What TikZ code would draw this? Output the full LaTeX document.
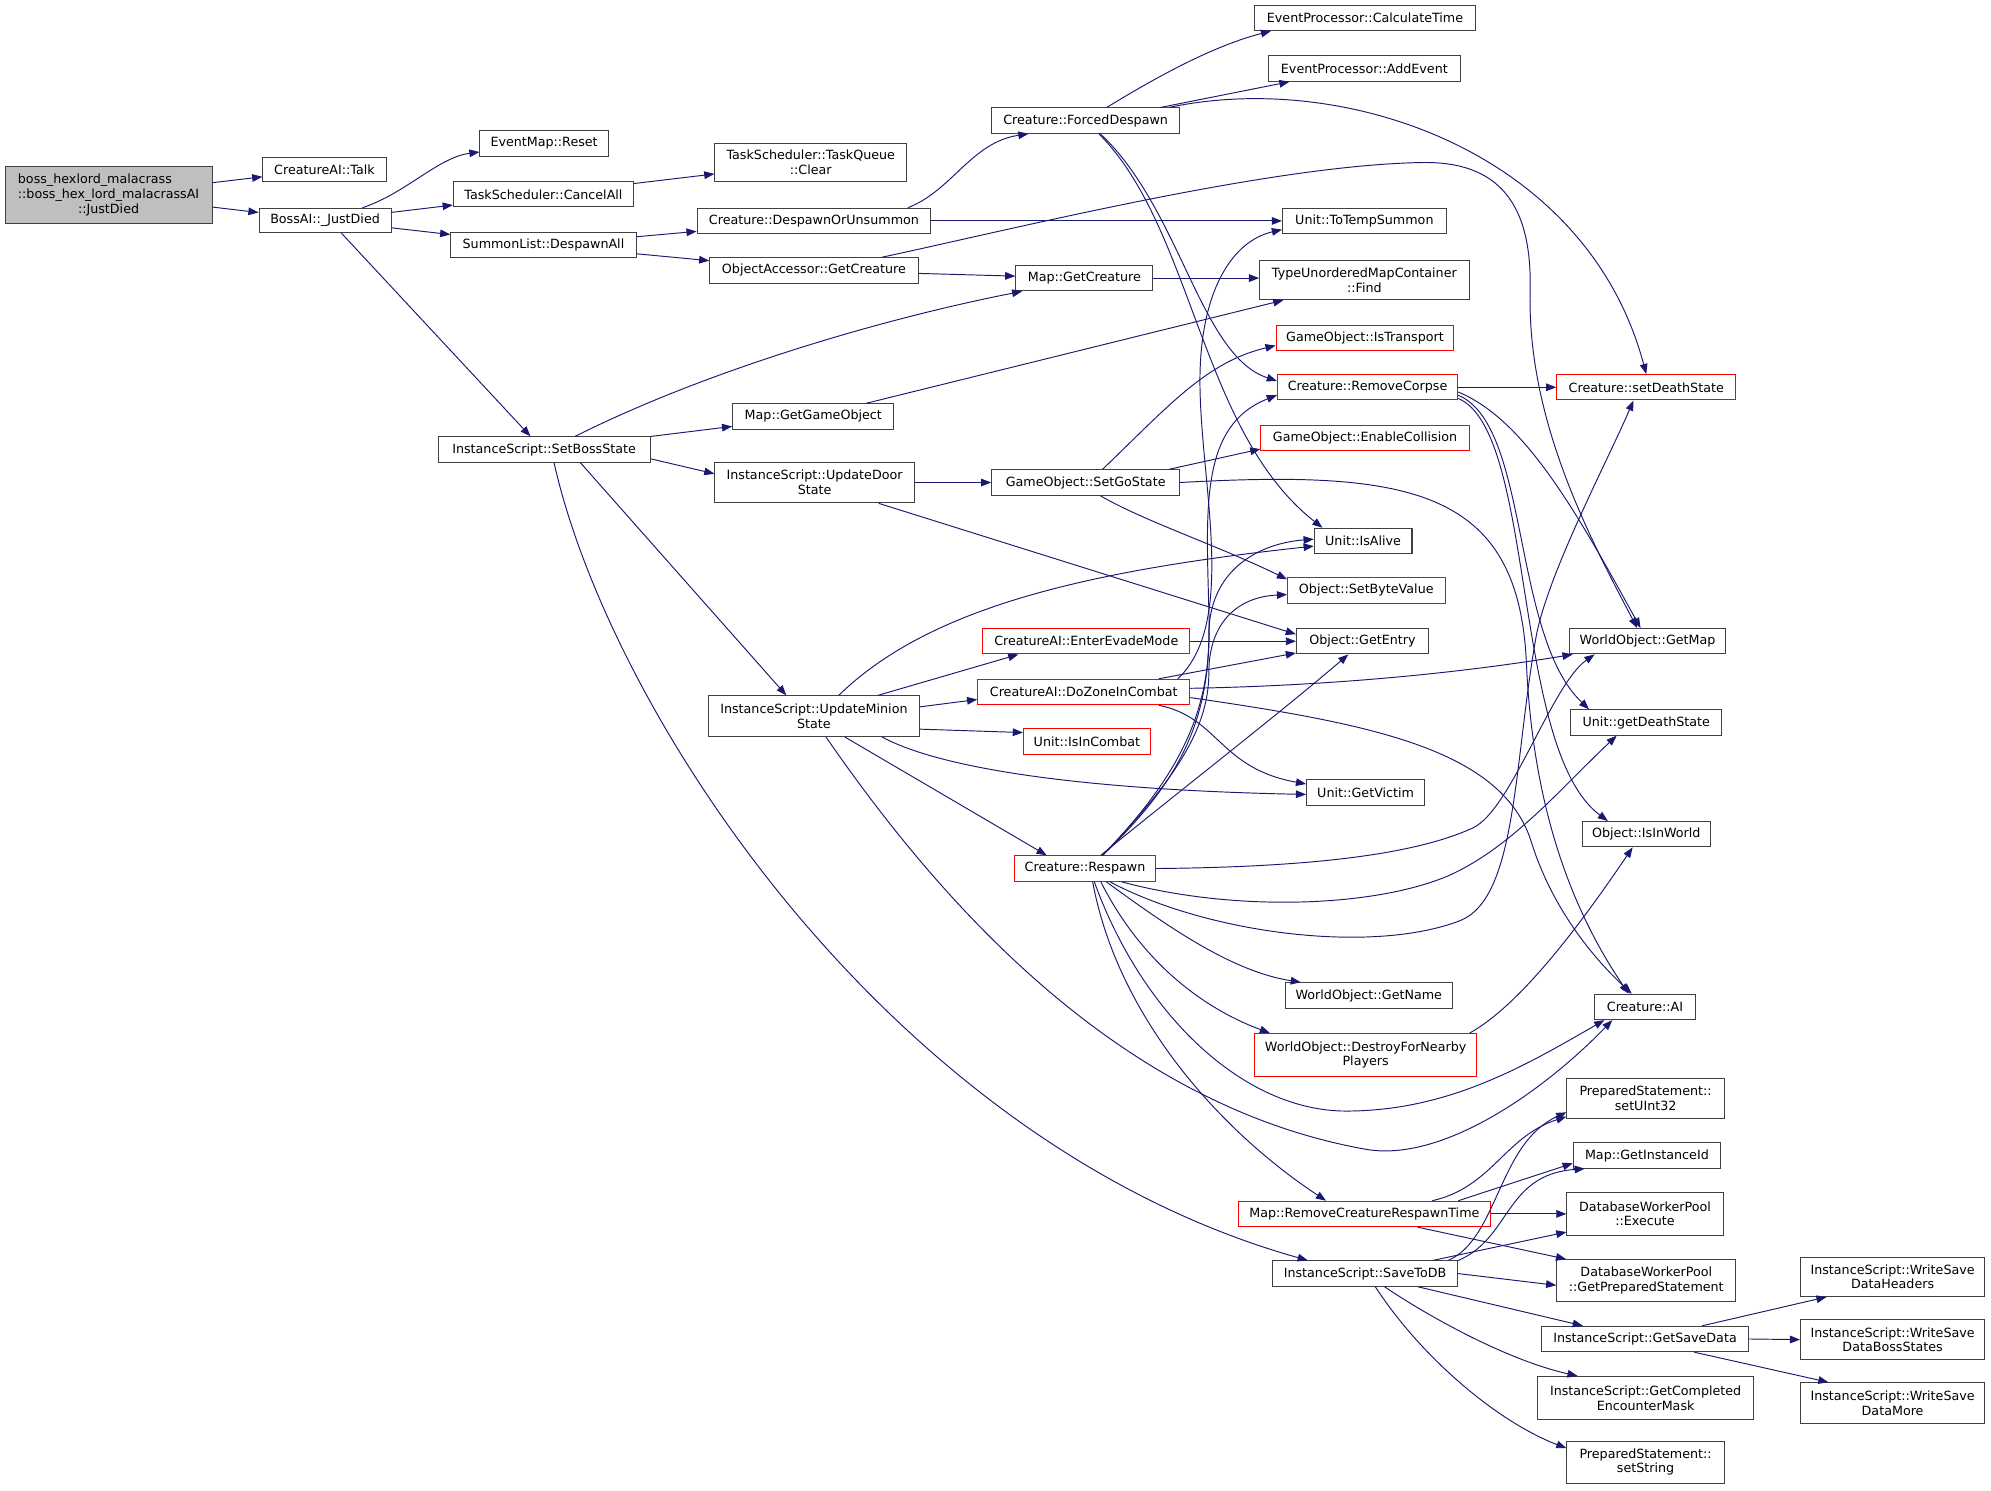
\documentclass[tikz,border=0pt]{standalone}
\usepackage{fontspec}
\usepackage{calc}
\setmainfont{DejaVu Sans}
\usetikzlibrary{arrows.meta}
\definecolor{edgeblue}{HTML}{191970}
\definecolor{nodegray}{HTML}{404040}
\definecolor{rootfill}{HTML}{BFBFBF}
\definecolor{trunc}{HTML}{FF0000}
\begin{document}
\begin{tikzpicture}[x=1pt,y=-1pt,
  fn/.style={draw=nodegray, line width=0.8pt, fill=white, inner sep=0pt, align=center,
    font=\fontsize{10}{11.5}\selectfont},
  fnred/.style={fn, draw=trunc},
  fnroot/.style={fn, fill=rootfill},
  call/.style={draw=edgeblue, line width=0.75pt, -{Triangle[length=8pt,width=6pt]}}]
\fill[white] (0,0) rectangle (1568,1174);
\useasboundingbox (0,0) rectangle (1568,1174);

% ---------- nodes ----------
\node[fnroot, minimum width=163pt, minimum height=45pt] (boss) at (85.5,153.5)
  {\makebox[\widthof{::boss\_hex\_lord\_malacrassAI}][l]{boss\_hexlord\_malacrass}\\::boss\_hex\_lord\_malacrassAI\\::JustDied};
\node[fn, minimum width=97pt, minimum height=19pt] (talk) at (255.5,133.5) {CreatureAI::Talk};
\node[fn, minimum width=104pt, minimum height=19pt] (bossai) at (256,173.5) {BossAI::\_JustDied};
\node[fn, minimum width=101pt, minimum height=20pt] (reset) at (428.5,113) {EventMap::Reset};
\node[fn, minimum width=142pt, minimum height=20pt] (cancelall) at (428,153) {TaskScheduler::CancelAll};
\node[fn, minimum width=146pt, minimum height=20pt] (despawnall) at (428,193) {SummonList::DespawnAll};
\node[fn, minimum width=151pt, minimum height=30pt] (tqclear) at (638.5,128) {TaskScheduler::TaskQueue\\::Clear};
\node[fn, minimum width=184pt, minimum height=20pt] (dou) at (641,174) {Creature::DespawnOrUnsummon};
\node[fn, minimum width=164pt, minimum height=20pt] (oagc) at (641,213) {ObjectAccessor::GetCreature};
\node[fn, minimum width=148pt, minimum height=20pt] (forced) at (855,95) {Creature::ForcedDespawn};
\node[fn, minimum width=174pt, minimum height=20pt] (calctime) at (1075,14) {EventProcessor::CalculateTime};
\node[fn, minimum width=151pt, minimum height=20pt] (addevent) at (1074.5,54) {EventProcessor::AddEvent};
\node[fn, minimum width=129pt, minimum height=20pt] (tts) at (1074.5,174) {Unit::ToTempSummon};
\node[fn, minimum width=108pt, minimum height=20pt] (mapgc) at (854,219) {Map::GetCreature};
\node[fn, minimum width=165pt, minimum height=31pt] (find) at (1074.5,220.5) {TypeUnorderedMapContainer\\::Find};
\node[fnred, minimum width=140pt, minimum height=20pt] (istransport) at (1075,266) {GameObject::IsTransport};
\node[fnred, minimum width=142pt, minimum height=20pt] (removecorpse) at (1077,305) {Creature::RemoveCorpse};
\node[fnred, minimum width=141pt, minimum height=20pt] (setdeath) at (1296.5,305) {Creature::setDeathState};
\node[fn, minimum width=127pt, minimum height=20pt] (mapggo) at (640.5,328) {Map::GetGameObject};
\node[fn, minimum width=167pt, minimum height=20pt] (setboss) at (428.5,354) {InstanceScript::SetBossState};
\node[fnred, minimum width=164pt, minimum height=20pt] (enablecoll) at (1075,345) {GameObject::EnableCollision};
\node[fn, minimum width=157pt, minimum height=32pt] (updoor) at (641.5,380) {InstanceScript::UpdateDoor\\State};
\node[fn, minimum width=148pt, minimum height=20pt] (setgo) at (855,380) {GameObject::SetGoState};
\node[fn, minimum width=77pt, minimum height=20pt] (isalive) at (1073.5,426) {Unit::IsAlive};
\node[fnred, minimum width=124pt, minimum height=20pt] (setbyte) at (1076,465) {Object::SetByteValue};
\node[fnred, minimum width=163pt, minimum height=20pt] (evade) at (855.5,505) {CreatureAI::EnterEvadeMode};
\node[fn, minimum width=104pt, minimum height=20pt] (getentry) at (1073,505) {Object::GetEntry};
\node[fn, minimum width=123pt, minimum height=20pt] (getmap) at (1297.5,505) {WorldObject::GetMap};
\node[fnred, minimum width=167pt, minimum height=20pt] (dozone) at (853.5,545) {CreatureAI::DoZoneInCombat};
\node[fn, minimum width=166pt, minimum height=32pt] (upminion) at (641,564) {InstanceScript::UpdateMinion\\State};
\node[fnred, minimum width=100pt, minimum height=20pt] (isincombat) at (856,584) {Unit::IsInCombat};
\node[fn, minimum width=119pt, minimum height=20pt] (getdeath) at (1296.5,569) {Unit::getDeathState};
\node[fn, minimum width=93pt, minimum height=20pt] (getvictim) at (1075.5,624) {Unit::GetVictim};
\node[fn, minimum width=101pt, minimum height=20pt] (isinworld) at (1296.5,657) {Object::IsInWorld};
\node[fnred, minimum width=111pt, minimum height=20pt] (respawn) at (854.5,684) {Creature::Respawn};
\node[fn, minimum width=132pt, minimum height=20pt] (getname) at (1078,784) {WorldObject::GetName};
\node[fn, minimum width=79pt, minimum height=20pt] (ai) at (1295.5,793) {Creature::AI};
\node[fnred, minimum width=175pt, minimum height=34pt] (destroy) at (1075.5,831) {WorldObject::DestroyForNearby\\Players};
\node[fn, minimum width=124pt, minimum height=32pt] (setuint) at (1296,865) {PreparedStatement::\\setUInt32};
\node[fn, minimum width=116pt, minimum height=20pt] (instid) at (1297,910) {Map::GetInstanceId};
\node[fnred, minimum width=199pt, minimum height=20pt] (rmrespawn) at (1074.5,956) {Map::RemoveCreatureRespawnTime};
\node[fn, minimum width=123pt, minimum height=34pt] (execute) at (1295.5,956) {DatabaseWorkerPool\\::Execute};
\node[fn, minimum width=146pt, minimum height=20pt] (savetodb) at (1075,1003) {InstanceScript::SaveToDB};
\node[fn, minimum width=141pt, minimum height=33pt] (getprep) at (1296.5,1008.5) {DatabaseWorkerPool\\::GetPreparedStatement};
\node[fn, minimum width=145pt, minimum height=31pt] (headers) at (1490.5,1005.5) {InstanceScript::WriteSave\\DataHeaders};
\node[fn, minimum width=163pt, minimum height=20pt] (getsave) at (1295.5,1054.5) {InstanceScript::GetSaveData};
\node[fn, minimum width=145pt, minimum height=32pt] (bossstates) at (1490.5,1055) {InstanceScript::WriteSave\\DataBossStates};
\node[fn, minimum width=170pt, minimum height=34pt] (encounter) at (1296,1101) {InstanceScript::GetCompleted\\EncounterMask};
\node[fn, minimum width=145pt, minimum height=32pt] (more) at (1490.5,1105) {InstanceScript::WriteSave\\DataMore};
\node[fn, minimum width=124pt, minimum height=33pt] (setstring) at (1296,1151.5) {PreparedStatement::\\setString};

% ---------- edges ----------
\draw[call] (boss) -- (talk);
\draw[call] (boss) -- (bossai);
\draw[call] (bossai) .. controls (320,152) and (345,124) .. (reset);
\draw[call] (bossai) -- (cancelall);
\draw[call] (bossai) -- (despawnall);
\draw[call] (bossai.-38) -- (setboss.136);
\draw[call] (cancelall) -- (tqclear);
\draw[call] (despawnall) -- (dou);
\draw[call] (despawnall) -- (oagc);
\draw[call] (dou.8) .. controls (750,150) and (765,112) .. (forced.193);
\draw[call] (dou.east) -- (tts.west);
\draw[call] (oagc) -- (mapgc);
\draw[call] (oagc.11) .. controls (800,180) and (1000,130) .. (1120,128)
   .. controls (1180,127) and (1207,160) .. (1205,230)
   .. controls (1203,330) and (1250,420) .. (getmap.128);
\draw[call] (forced.32) .. controls (920,55) and (960,35) .. (calctime.188);
\draw[call] (forced.10) -- (addevent.190);
\draw[call] (forced.9) .. controls (1060,55) and (1250,120) .. (setdeath.north);
\draw[call] (forced.-42) .. controls (930,165) and (945,280) .. (removecorpse.176);
\draw[call] (forced.-45) .. controls (940,180) and (945,340) .. (isalive.162);
\draw[call] (mapgc.east) -- (find.west |- mapgc.east);
\draw[call] (setboss.23) .. controls (560,290) and (700,250) .. (mapgc.192);
\draw[call] (setboss) -- (mapggo);
\draw[call] (mapggo.14) -- (find.194);
\draw[call] (setboss.-5) -- (updoor.175);
\draw[call] (setboss.-20) -- (upminion.143);
\draw[call] (setboss.-53) .. controls (480,560) and (700,900) .. (savetodb.167);
\draw[call] (updoor.east) -- (setgo.west);
\draw[call] (updoor.-18) -- (getentry.174);
\draw[call] (setgo.38) .. controls (920,320) and (950,285) .. (istransport.185);
\draw[call] (setgo.9) -- (enablecoll.186);
\draw[call] (setgo.-42) .. controls (900,410) and (960,430) .. (setbyte.172);
\draw[call] (setgo.east) .. controls (1110,370) and (1195,385) .. (1202,520)
   .. controls (1207,640) and (1240,720) .. (ai.141);
\draw[call] (removecorpse.east) -- (setdeath.west);
\draw[call] (removecorpse.-3) .. controls (1200,330) and (1240,400) .. (getmap.118);
\draw[call] (removecorpse.-5) .. controls (1205,335) and (1190,500) .. (getdeath.167);
\draw[call] (removecorpse.-7) .. controls (1210,340) and (1190,590) .. (isinworld.161);
% Creature::Respawn
\draw[call] (respawn.37) .. controls (935,610) and (955,560) .. (952,480)
   .. controls (950,400) and (945,335) .. (removecorpse.185);
\draw[call] (respawn.37) .. controls (930,610) and (952,560) .. (952,500)
   .. controls (952,450) and (990,428) .. (isalive.178);
\draw[call] (respawn.37) .. controls (930,610) and (952,570) .. (952,530)
   .. controls (952,490) and (975,470) .. (setbyte.183);
\draw[call] (respawn.40) .. controls (920,630) and (1010,560) .. (getentry.223);
\draw[call] (respawn.east) .. controls (1020,683) and (1110,675) .. (1160,652)
   .. controls (1190,638) and (1222,539) .. (getmap.194);
\draw[call] (respawn.-20) .. controls (970,718) and (1080,715) .. (1140,690)
   .. controls (1190,668) and (1230,620) .. (getdeath.204);
\draw[call] (respawn.-28) .. controls (950,735) and (1080,752) .. (1150,725)
   .. controls (1195,707) and (1192,600) .. (1210,500)
   .. controls (1220,450) and (1265,365) .. (setdeath.226);
\draw[call] (respawn.-32) .. controls (920,730) and (970,765) .. (getname.169);
\draw[call] (respawn.-40) .. controls (900,760) and (950,795) .. (destroy.167);
\draw[call] (respawn.-55) .. controls (900,800) and (980,875) .. (1060,875)
   .. controls (1140,875) and (1200,840) .. (ai.198);
\draw[call] (respawn.-60) .. controls (880,800) and (960,890) .. (rmrespawn.161);
% InstanceScript::UpdateMinionState
\draw[call] (upminion.40) .. controls (730,480) and (850,450) .. (isalive.186);
\draw[call] (upminion.18) -- (evade.191);
\draw[call] (upminion.5) -- (dozone.184);
\draw[call] (upminion.-7) -- (isincombat.172);
\draw[call] (upminion.-17) .. controls (740,605) and (850,622) .. (getvictim.182);
\draw[call] (upminion.-34) -- (respawn.161);
\draw[call] (upminion.-60) .. controls (740,710) and (880,870) .. (1075,905)
   .. controls (1135,916) and (1215,860) .. (ai.202);
% CreatureAI
\draw[call] (evade.east) -- (getentry.west);
\draw[call] (dozone.10) -- (getentry.190);
\draw[call] (dozone.2) .. controls (1050,540) and (1150,530) .. (getmap.190);
\draw[call] (dozone.-10) .. controls (960,565) and (960,605) .. (getvictim.172);
\draw[call] (dozone.-3) .. controls (1080,570) and (1180,590) .. (1205,660)
   .. controls (1220,710) and (1250,750) .. (ai.135);
\draw[call] (dozone.8) .. controls (975,490) and (945,380) .. (945,300)
   .. controls (945,230) and (970,190) .. (tts.186);
\draw[call] (destroy.12) .. controls (1200,790) and (1250,720) .. (isinworld.224);
% Map::RemoveCreatureRespawnTime
\draw[call] (rmrespawn.11) .. controls (1175,935) and (1185,895) .. (setuint.193);
\draw[call] (rmrespawn.8) -- (instid.186);
\draw[call] (rmrespawn.east) -- (execute.west);
\draw[call] (rmrespawn.-14) -- (getprep.165);
% InstanceScript::SaveToDB
\draw[call] (savetodb.9) .. controls (1180,975) and (1180,900) .. (setuint.190);
\draw[call] (savetodb.8) .. controls (1190,975) and (1185,925) .. (instid.192);
\draw[call] (savetodb.11) -- (execute.193);
\draw[call] (savetodb.east) -- (getprep.183);
\draw[call] (savetodb.-14) -- (getsave.168);
\draw[call] (savetodb.-34) .. controls (1130,1040) and (1190,1072) .. (encounter.162);
\draw[call] (savetodb.-52) .. controls (1120,1070) and (1180,1120) .. (setstring.170);
% InstanceScript::GetSaveData
\draw[call] (getsave.13) -- (headers.197);
\draw[call] (getsave.east) -- (bossstates.west);
\draw[call] (getsave.-15) -- (more.162);
\end{tikzpicture}
\end{document}
